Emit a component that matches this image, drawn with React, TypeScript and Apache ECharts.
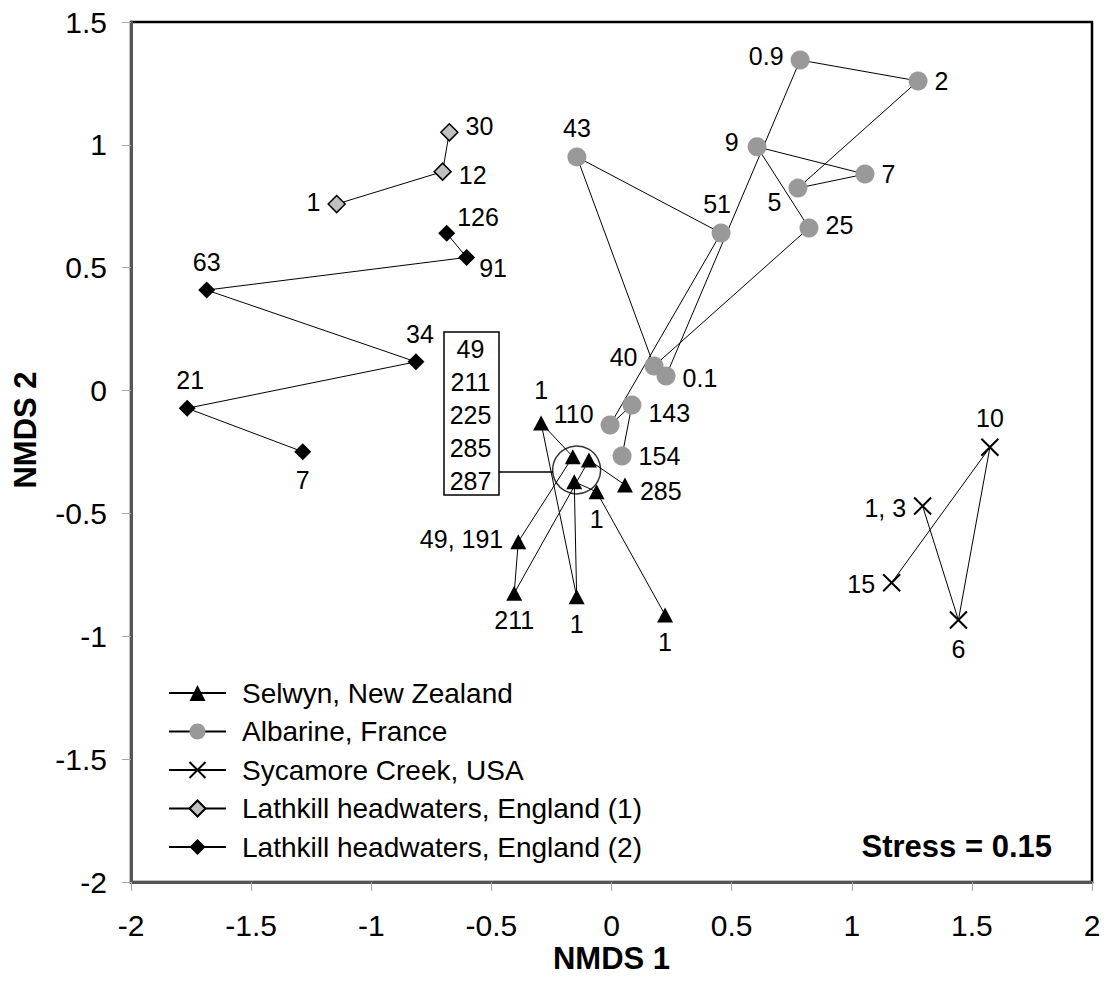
import React, { useEffect, useRef } from "react";
import * as echarts from "echarts";

const FONT = "'Liberation Sans', Arial, Helvetica, sans-serif";

// ---------- data (NMDS coordinates) ----------
const xTicks = { min: -2, max: 2, interval: 0.5 };
const yTicks = { min: -2, max: 1.5, interval: 0.5 };

// Selwyn, New Zealand (in sampling order)
const selwynNames = ["285", "", "211", "49, 191", "", "1", "1", "", "1", "1"];
const selwynX = [0.056, -0.094, -0.405, -0.388, -0.161, -0.293, -0.145, -0.155, -0.062, 0.223];
const selwynY = [-0.384, -0.283, -0.825, -0.615, -0.269, -0.132, -0.839, -0.371, -0.412, -0.913];

// Albarine, France
const albarineNames = ["154", "143", "110", "51", "43", "40", "25", "9", "7", "5", "2", "0.9", "0.1"];
const albarineX = [0.044, 0.085, -0.006, 0.456, -0.144, 0.177, 0.822, 0.606, 1.055, 0.776, 1.276, 0.785, 0.227];
const albarineY = [-0.266, -0.059, -0.14, 0.641, 0.951, 0.1, 0.662, 0.992, 0.881, 0.824, 1.26, 1.345, 0.059];

// Sycamore Creek, USA
const sycamoreNames = ["15", "10", "6", "1, 3"];
const sycamoreX = [1.166, 1.575, 1.444, 1.295];
const sycamoreY = [-0.782, -0.231, -0.934, -0.47];

// Lathkill headwaters, England (1)
const lathkill1Names = ["1", "12", "30"];
const lathkill1X = [-1.144, -0.703, -0.675];
const lathkill1Y = [0.759, 0.891, 1.051];

// Lathkill headwaters, England (2)
const lathkill2Names = ["126", "91", "63", "34", "21", "7"];
const lathkill2X = [-0.686, -0.603, -1.685, -0.814, -1.766, -1.285];
const lathkill2Y = [0.64, 0.542, 0.409, 0.117, -0.072, -0.249];

// grouped samples (circled) and their discharge list
const clusterCentre = [-0.145, -0.323];
const clusterList = ["49", "211", "225", "285", "287"];
const stressText = "Stress = 0.15";

// ---------- label placement (layout only) ----------
const selwynLabelPos = ["right", null, "bottom", "left", null, "top", "bottom", null, "bottom", "bottom"];
const selwynLabelShift = [[0, 6], [0, 0], [0, 0], [0, -3], [0, 0], [0, -6], [0, 0], [0, 0], [0, 0], [0, 0]];
const albarineLabelPos = ["right", "right", "left", "top", "top", "left", "right", "left", "right", "left", "right", "left", "right"];
const albarineLabelShift = [[0, 0], [0, 8], [0, -11], [-4, 0], [0, 0], [0, -9], [0, -3], [-2, -5], [0, 0], [0, 14], [0, 0], [0, -4], [0, 2]];
const sycamoreLabelPos = ["left", "top", "bottom", "left"];
const sycamoreLabelShift = [[0, 1], [0, 0], [0, 0], [0, 2]];
const lathkill1LabelPos = ["left", "right", "right"];
const lathkill1LabelShift = [[0, -2], [0, 3], [0, -6]];
const lathkill2LabelPos = ["right", "right", "top", "top", "top", "bottom"];
const lathkill2LabelShift = [[-5, -16], [-3, 11], [0, 0], [4, 0], [3, 0], [0, 0]];

function buildData(names: string[], xs: number[], ys: number[], pos: (string | null)[], shift: number[][]) {
  return names.map((n, i) => ({
    name: n,
    value: [xs[i], ys[i]],
    label: pos[i]
      ? { show: true, position: pos[i], offset: shift[i] }
      : { show: false },
  }));
}

const X_SYMBOL = "path://M0,0L20,20M20,0L0,20";

export default function App() {
  const ref = useRef<HTMLDivElement>(null);

  useEffect(() => {
    if (!ref.current) return;
    const chart = echarts.init(ref.current, null, { renderer: "svg" });

    const labelStyle = {
      show: true,
      formatter: "{b}",
      color: "#000",
      fontFamily: FONT,
      fontSize: 25,
      distance: 7,
    };
    const lineStyle = { color: "#000", width: 1 };

    const series: any[] = [
      {
        name: "Selwyn, New Zealand",
        type: "line",
        symbol: "triangle",
        symbolSize: [16, 15],
        itemStyle: { color: "#000" },
        lineStyle,
        label: labelStyle,
        data: buildData(selwynNames, selwynX, selwynY, selwynLabelPos, selwynLabelShift),
        z: 3,
      },
      {
        name: "Albarine, France",
        type: "line",
        symbol: "circle",
        symbolSize: 19,
        itemStyle: { color: "#999999" },
        lineStyle,
        label: labelStyle,
        data: buildData(albarineNames, albarineX, albarineY, albarineLabelPos, albarineLabelShift),
        z: 2,
      },
      {
        name: "Sycamore Creek, USA",
        type: "line",
        symbol: X_SYMBOL,
        symbolSize: 17,
        itemStyle: { color: "#000", borderColor: "#000", borderWidth: 2 },
        lineStyle,
        label: labelStyle,
        data: buildData(sycamoreNames, sycamoreX, sycamoreY, sycamoreLabelPos, sycamoreLabelShift),
        z: 2,
      },
      {
        name: "Lathkill headwaters, England (1)",
        type: "line",
        symbol: "diamond",
        symbolSize: 17,
        itemStyle: { color: "#c0c0c0", borderColor: "#000", borderWidth: 1.5 },
        lineStyle,
        label: labelStyle,
        data: buildData(lathkill1Names, lathkill1X, lathkill1Y, lathkill1LabelPos, lathkill1LabelShift),
        z: 2,
      },
      {
        name: "Lathkill headwaters, England (2)",
        type: "line",
        symbol: "diamond",
        symbolSize: 17,
        itemStyle: { color: "#000" },
        lineStyle,
        label: labelStyle,
        data: buildData(lathkill2Names, lathkill2X, lathkill2Y, lathkill2LabelPos, lathkill2LabelShift),
        z: 2,
      },
      {
        name: "cluster",
        type: "scatter",
        symbol: "circle",
        symbolSize: 48,
        silent: true,
        itemStyle: { color: "rgba(0,0,0,0)", borderColor: "#000", borderWidth: 1.5 },
        data: [clusterCentre],
        z: 4,
      },
    ];

    const boxLeft = 444, boxTop = 332, boxW = 55, boxH = 163, rowH = 33;
    const graphic: any[] = [
      {
        type: "rect",
        shape: { x: boxLeft, y: boxTop, width: boxW, height: boxH },
        style: { fill: "#fff", stroke: "#000", lineWidth: 1.5 },
        z: 10,
      },
      ...clusterList.map((t, i) => ({
        type: "text",
        x: boxLeft + boxW / 2 - 1,
        y: boxTop + 17 + i * rowH,
        style: {
          text: t,
          fill: "#000",
          font: `25px ${FONT}`,
          align: "center",
          verticalAlign: "middle",
        },
        z: 11,
      })),
      {
        type: "line",
        shape: { x1: boxLeft + boxW, y1: 472, x2: 553, y2: 472 },
        style: { stroke: "#000", lineWidth: 1.5 },
        z: 10,
      },
      {
        type: "text",
        x: 1052,
        y: 846,
        style: {
          text: stressText,
          fill: "#000",
          font: `bold 31px ${FONT}`,
          align: "right",
          verticalAlign: "middle",
        },
        z: 10,
      },
    ];

    chart.setOption({
      animation: false,
      backgroundColor: "#fff",
      textStyle: { fontFamily: FONT },
      grid: {
        left: 131,
        right: 18,
        top: 22,
        bottom: 101,
        show: true,
        borderColor: "#000",
        borderWidth: 2.5,
        backgroundColor: "#fff",
      },
      xAxis: {
        type: "value",
        min: xTicks.min,
        max: xTicks.max,
        interval: xTicks.interval,
        name: "NMDS 1",
        nameLocation: "middle",
        nameGap: 61,
        nameMoveOverlap: false,
        nameTextStyle: { fontFamily: FONT, fontSize: 31, fontWeight: "bold", color: "#000" },
        axisLine: { show: true, onZero: false, lineStyle: { color: "#555", width: 3 } },
        axisTick: { show: true, inside: false, length: 9, lineStyle: { color: "#aaa", width: 1 } },
        axisLabel: { fontFamily: FONT, fontSize: 30, color: "#000", margin: 28 },
        splitLine: { show: false },
      },
      yAxis: {
        type: "value",
        min: yTicks.min,
        max: yTicks.max,
        interval: yTicks.interval,
        name: "NMDS 2",
        nameLocation: "middle",
        nameRotate: 90,
        nameGap: 90,
        nameTextStyle: { fontFamily: FONT, fontSize: 31, fontWeight: "bold", color: "#000", padding: [0, 0, 0, 44] },
        axisLine: { show: true, onZero: false, lineStyle: { color: "#555", width: 3 } },
        axisTick: { show: true, inside: false, length: 9, lineStyle: { color: "#aaa", width: 1 } },
        axisLabel: { fontFamily: FONT, fontSize: 30, color: "#000", margin: 24 },
        splitLine: { show: false },
      },
      legend: {
        data: [
          "Selwyn, New Zealand",
          "Albarine, France",
          "Sycamore Creek, USA",
          "Lathkill headwaters, England (1)",
          "Lathkill headwaters, England (2)",
        ],
        orient: "vertical",
        left: 168,
        top: 679,
        padding: 0,
        itemWidth: 57,
        itemHeight: 20,
        itemGap: 10.5,
        textStyle: { fontFamily: FONT, fontSize: 28, color: "#000", lineHeight: 28, padding: [0, 0, 0, 11] },
      },
      graphic,
      series,
    });

    return () => chart.dispose();
  }, []);

  return (
    <div
      ref={ref}
      style={{ position: "fixed", left: 0, top: 0, width: 1110, height: 983, background: "#fff" }}
    />
  );
}
